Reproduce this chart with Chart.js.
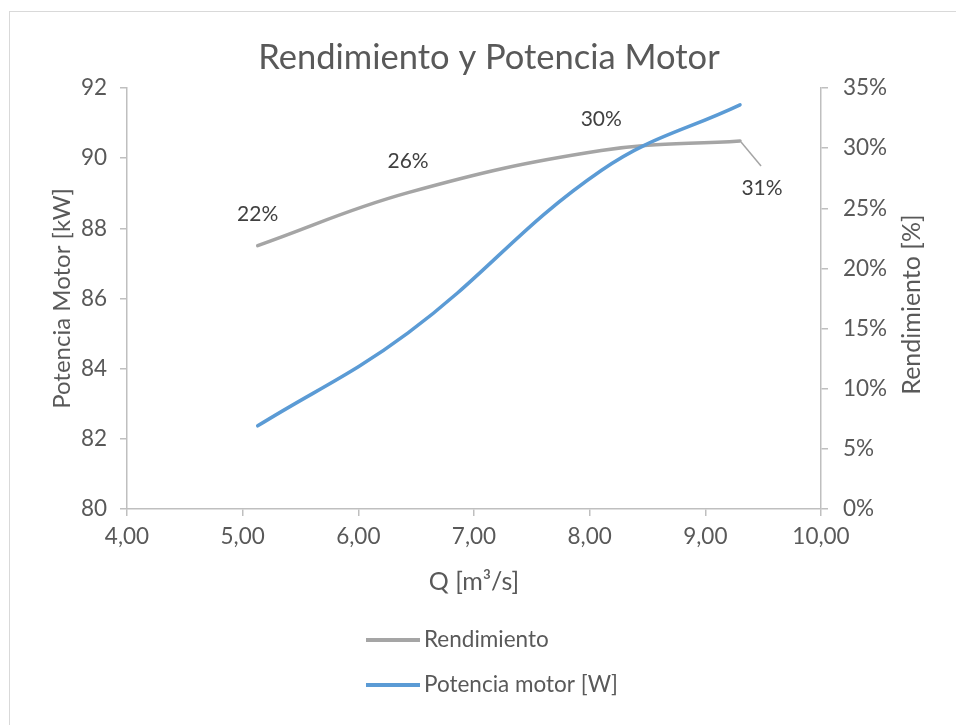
<!DOCTYPE html>
<html>
<head>
<meta charset="utf-8">
<script src="https://cdn.jsdelivr.net/npm/chart.js@4.4.0/dist/chart.umd.min.js"></script>
<style>
  html, body { margin: 0; padding: 0; background: #fff; }
  #wrap { position: relative; width: 956px; height: 725px; }
</style>
</head>
<body>
<div id="wrap"><canvas id="chart" width="956" height="725"></canvas></div>
<script>
// chart data
const caudal = [5.13, 6.43, 8.10, 9.30];          // Q [m3/s]
const rendimiento = [21.9, 26.3, 29.8, 30.6];     // %
const potencia = [82.37, 85.02, 89.65, 91.52];    // kW
const seriesNames = ['Rendimiento', 'Potencia motor [W]'];
const chartTitle = 'Rendimiento y Potencia Motor';
const qRange = [4, 10];
const kwRange = [80, 92];
const pctRange = [0, 35];

const FONT = 'Lato, "Open Sans", sans-serif';
const TEXT = '#595959';
const AXIS = '#bfbfbf';

const toPoints = (ys) => caudal.map((q, i) => ({ x: q, y: ys[i] }));

// border, title, data labels, right title, vertical legend
const extras = {
    id: 'extras',
    beforeDraw(chart) {
        const ctx = chart.ctx;
        ctx.save();
        ctx.fillStyle = '#fff';
        ctx.fillRect(0, 0, chart.width, chart.height);
        ctx.strokeStyle = '#d9d9d9';
        ctx.lineWidth = 1;
        ctx.strokeRect(9.5, 11.5, 960, 720);
        // title is centred on the chart frame, not the canvas
        ctx.font = '34.5px ' + FONT;
        ctx.fillStyle = TEXT;
        ctx.textAlign = 'center';
        ctx.textBaseline = 'middle';
        ctx.fillText(chartTitle, 489, 58);
        ctx.restore();
    },
    afterDatasetsDraw(chart) {
        const ctx = chart.ctx;
        const meta = chart.getDatasetMeta(0);
        ctx.save();
        ctx.font = '21px ' + FONT;
        ctx.fillStyle = '#404040';
        ctx.textAlign = 'center';
        ctx.textBaseline = 'middle';
        meta.data.forEach((pt, i) => {
            const txt = Math.round(rendimiento[i]) + '%';
            if (i === meta.data.length - 1) {
                ctx.strokeStyle = '#a5a5a5';
                ctx.lineWidth = 1.5;
                ctx.beginPath();
                ctx.moveTo(pt.x + 1, pt.y + 1);
                ctx.lineTo(pt.x + 21, pt.y + 25);
                ctx.stroke();
                ctx.fillText(txt, pt.x + 22, pt.y + 47);
            } else {
                ctx.fillText(txt, pt.x, pt.y - 31);
            }
        });
        ctx.restore();
    },
    afterDraw(chart) {
        const ctx = chart.ctx;
        const area = chart.chartArea;
        ctx.save();
        // right axis title, reads bottom to top
        ctx.font = '25px ' + FONT;
        ctx.fillStyle = TEXT;
        ctx.textAlign = 'center';
        ctx.textBaseline = 'middle';
        ctx.translate(912, (area.top + area.bottom) / 2 + 6);
        ctx.rotate(-Math.PI / 2);
        ctx.fillText('Rendimiento [%]', 0, 0);
        ctx.restore();

        // legend
        ctx.save();
        ctx.font = '22.5px ' + FONT;
        ctx.textAlign = 'left';
        ctx.textBaseline = 'middle';
        ctx.lineCap = 'butt';
        chart.data.datasets.forEach((ds, i) => {
            const y = 640 + i * 45;
            ctx.strokeStyle = ds.borderColor;
            ctx.lineWidth = 4;
            ctx.beginPath();
            ctx.moveTo(366, y);
            ctx.lineTo(420, y);
            ctx.stroke();
            ctx.fillStyle = TEXT;
            ctx.fillText(ds.label, 424, y);
        });
        ctx.restore();
    }
};

new Chart(document.getElementById('chart'), {
    type: 'line',
    data: {
        datasets: [{
            label: seriesNames[0],
            data: toPoints(rendimiento),
            yAxisID: 'y2',
            borderColor: '#a5a5a5',
            borderWidth: 3.5,
            borderCapStyle: 'round',
            pointRadius: 0,
            tension: 0.4,
            order: 2
        }, {
            label: seriesNames[1],
            data: toPoints(potencia),
            yAxisID: 'y',
            borderColor: '#5b9bd5',
            borderWidth: 3.5,
            borderCapStyle: 'round',
            pointRadius: 0,
            tension: 0.4,
            order: 1
        }]
    },
    options: {
        responsive: false,
        animation: false,
        layout: { padding: { top: 88, bottom: 126 } },
        plugins: {
            legend: { display: false },
            tooltip: { enabled: false },
            title: { display: false }
        },
        scales: {
            x: {
                type: 'linear',
                min: qRange[0],
                max: qRange[1],
                afterFit: (s) => { s.height = 90; },
                ticks: {
                    stepSize: 1,
                    color: TEXT,
                    padding: 7,
                    font: { family: FONT, size: 22.5 },
                    callback: (v) => v.toFixed(2).replace('.', ',')
                },
                grid: { drawOnChartArea: false, tickLength: 7, color: AXIS, lineWidth: 1.5 },
                border: { color: AXIS, width: 1.5 },
                title: {
                    display: true,
                    text: 'Q [m³/s]',
                    color: TEXT,
                    font: { family: FONT, size: 25 },
                    padding: { top: 0, bottom: 2 }
                }
            },
            y: {
                position: 'left',
                min: kwRange[0],
                max: kwRange[1],
                afterFit: (s) => { s.width = 127; },
                ticks: {
                    stepSize: 2,
                    color: TEXT,
                    padding: 13,
                    font: { family: FONT, size: 22.5 }
                },
                grid: { drawOnChartArea: false, tickLength: 7, color: AXIS, lineWidth: 1.5 },
                border: { color: AXIS, width: 1.5 },
                title: {
                    display: true,
                    text: 'Potencia Motor [kW]',
                    color: TEXT,
                    font: { family: FONT, size: 24 },
                    padding: { top: 48, bottom: 0 }
                }
            },
            y2: {
                position: 'right',
                min: pctRange[0],
                max: pctRange[1],
                afterFit: (s) => { s.width = 135; },
                ticks: {
                    stepSize: 5,
                    color: TEXT,
                    padding: 15,
                    font: { family: FONT, size: 22.5 },
                    callback: (v) => v + '%'
                },
                grid: { drawOnChartArea: false, tickLength: 7, color: AXIS, lineWidth: 1.5 },
                border: { color: AXIS, width: 1.5 }
            }
        }
    },
    plugins: [extras]
});
</script>
</body>
</html>
